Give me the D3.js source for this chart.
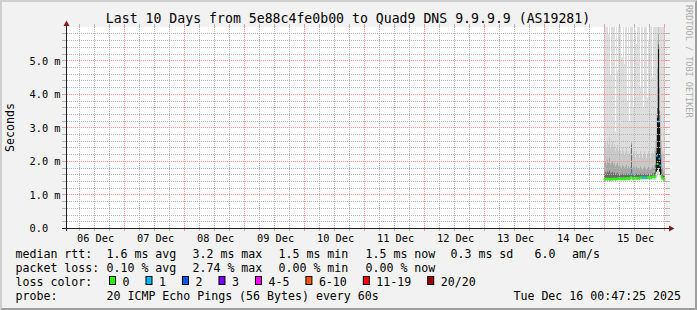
<!DOCTYPE html>
<html><head><meta charset="utf-8">
<script src="https://cdn.jsdelivr.net/npm/d3@7"></script>
<style>
html,body{margin:0;padding:0;background:#f2f2f2;}
svg{display:block;}
text{font-family:'DejaVu Sans Mono',monospace;fill:#000;}
</style></head><body>
<svg id="c" width="697" height="310"></svg>
<script>
// ---------- data ----------
const title = "Last 10 Days from 5e88c4fe0b00 to Quad9 DNS 9.9.9.9 (AS19281)";
const yAxisTitle = "Seconds";
const watermark = "RRDTOOL / TOBI OETIKER";
const yTickValues = [0, 1, 2, 3, 4, 5];
const yTickLabels = ["0.0", "1.0 m", "2.0 m", "3.0 m", "4.0 m", "5.0 m"];
const xTickLabels = ["06 Dec","07 Dec","08 Dec","09 Dec","10 Dec","11 Dec","12 Dec","13 Dec","14 Dec","15 Dec"];
const rangeStart = "2025-12-06T00:47:25Z";
const rangeEnd = "2025-12-16T00:47:25Z";
const dataStart = "2025-12-15T00:00:00Z";
const stepSeconds = 1440;

// median rtt per step (ms)
const medianRtt = [
 1.47,1.47,1.48,1.47,1.48,1.47,1.47,1.48,1.47,1.48,
 1.48,1.47,1.48,1.48,1.49,1.48,1.48,1.49,1.48,1.49,
 1.49,1.48,1.49,1.50,1.49,1.48,1.52,1.63,1.50,1.49,
 1.50,1.51,1.50,1.50,1.51,1.50,1.51,1.52,1.51,1.52,
 1.51,1.52,1.51,1.52,1.53,1.52,1.53,1.52,1.54,1.55,
 1.53,1.56,2.17,1.92,3.19,2.08,1.88,1.55,1.50,1.47,
 1.46];
// lost pings out of 20 per step
const lossCount = [
 0,0,0,0,0,0,0,0,0,0,
 0,0,0,0,0,0,0,0,0,0,
 0,0,0,0,0,0,0,1,0,0,
 0,0,0,0,0,0,0,0,1,1,
 0,1,1,0,0,0,0,0,0,0,
 0,0,1,0,1,1,1,0,0,0,
 0];
// smoke: ping distribution per step (ms)
const smokeMax = [
 6.5,6.5,6.5,6.5,5.8,6.5,4.6,6.5,6.5,6.5,
 6.5,2.9,6.5,4.7,6.5,6.5,6.5,5.1,5.1,6.5,
 4.9,6.5,6.5,3.8,6.5,3.2,6.5,6.5,6.5,3.6,
 6.5,5.9,5.5,6.5,6.5,6.5,4.2,6.5,6.5,3.6,
 6.5,6.5,6.5,3.9,5.6,6.5,6.5,6.5,4.5,6.5,
 6.5,6.5,6.5,6.5,6.5,6.5,6.5,6.5,6.5,6.5,
 6.5];
const smokeHi1 = [
 2.5,2.6,2.4,2.6,2.5,2.7,2.4,2.5,2.6,2.4,
 2.5,2.3,2.4,2.5,2.3,2.4,2.3,2.2,2.4,2.3,
 2.2,2.3,2.4,2.2,2.3,2.2,2.3,2.6,2.2,2.3,
 2.2,2.1,2.3,2.2,2.2,2.1,2.3,2.2,2.1,2.2,
 2.3,2.2,2.1,2.2,2.3,2.2,2.1,2.2,2.3,2.2,
 2.4,2.6,3.4,5.6,6.2,5.4,3.4,2.6,2.3,2.2,
 2.1];
const smokeHi2 = [
 1.95,2.0,1.9,2.05,1.95,2.1,1.9,1.95,2.0,1.9,
 1.95,1.85,1.9,1.95,1.85,1.9,1.85,1.8,1.9,1.85,
 1.8,1.85,1.9,1.8,1.85,1.8,1.85,2.55,1.8,1.85,
 1.8,1.75,1.85,1.8,1.8,1.75,1.85,1.8,1.75,1.8,
 1.85,1.8,1.75,1.8,1.85,1.8,1.75,1.8,1.85,1.8,
 1.9,2.3,2.8,4.8,5.8,4.2,3.0,2.2,1.8,1.7,
 1.65];
const smokeHi3 = [
 1.66,1.68,1.64,1.70,1.66,1.72,1.64,1.66,1.68,1.63,
 1.66,1.62,1.64,1.66,1.62,1.64,1.62,1.61,1.64,1.62,
 1.61,1.62,1.64,1.61,1.62,1.60,1.63,2.50,1.62,1.62,
 1.61,1.60,1.63,1.62,1.61,1.60,1.63,1.62,1.61,1.62,
 1.63,1.62,1.60,1.62,1.63,1.62,1.60,1.62,1.64,1.63,
 1.66,1.90,2.40,3.60,5.50,3.50,2.40,1.80,1.62,1.58,
 1.56];
const smokeHi4 = [
 null,null,null,null,null,null,null,null,null,null,
 null,null,null,null,null,null,null,null,null,null,
 null,null,null,null,null,null,null,null,null,null,
 null,null,null,null,null,null,null,null,null,null,
 null,null,null,null,null,null,null,null,null,null,
 null,null,2.25,3.3,5.35,3.2,2.1,null,null,null,
 null];
const smokeLo = [
 1.44,1.44,1.45,1.44,1.45,1.44,1.44,1.45,1.44,1.45,
 1.45,1.44,1.45,1.45,1.46,1.45,1.45,1.46,1.45,1.46,
 1.46,1.45,1.46,1.47,1.46,1.45,1.49,1.55,1.47,1.46,
 1.47,1.48,1.47,1.47,1.48,1.47,1.48,1.49,1.48,1.49,
 1.48,1.49,1.48,1.49,1.50,1.49,1.50,1.49,1.51,1.52,
 1.50,1.53,1.70,1.75,1.80,1.70,1.60,1.50,1.47,1.44,
 1.43];
const smokeMin = [
 1.39,1.40,1.39,1.38,1.40,1.39,1.39,1.40,1.39,1.40,
 1.40,1.39,1.40,1.40,1.41,1.40,1.40,1.41,1.40,1.41,
 1.41,1.40,1.41,1.42,1.41,1.40,1.42,1.43,1.42,1.41,
 1.42,1.42,1.42,1.42,1.43,1.42,1.43,1.43,1.43,1.44,
 1.43,1.44,1.43,1.44,1.44,1.44,1.44,1.44,1.45,1.45,
 1.44,1.46,1.50,1.55,1.60,1.55,1.50,1.45,1.42,1.40,
 1.39];

// legend
const rttStats = ["1.6 ms avg","3.2 ms max","1.5 ms min","1.5 ms now","0.3 ms sd","6.0","am/s"];
const lossStats = ["0.10 % avg","2.74 % max","0.00 % min","0.00 % now"];
const lossLabels = ["0","1","2","3","4-5","6-10","11-19","20/20"];
const lossColors = ["#26ff00","#00b8ff","#0059ff","#7e00ff","#ff00ff","#ff5500","#ff0000","#a10000"];
const lossUpper = [0,1,2,3,5,10,19,20];
const probeText = "20 ICMP Echo Pings (56 Bytes) every 60s";
const dateText = "Tue Dec 16 00:47:25 2025";

// ---------- layout ----------
const W = 697, H = 310;
const PL = 66, PR = 666, PT = 27, PB = 228.5;
const svg = d3.select("#c");
const crisp = v => Math.floor(v) + 0.5;

// background + frame
svg.append("rect").attr("width", W).attr("height", H).attr("fill", "#f2f2f2");
svg.append("path").attr("d", `M0,0H${W}L${W-2},2H2V${H-2}L0,${H}Z`).attr("fill", "#cfcfcf");
svg.append("path").attr("d", `M${W},0V${H}H0L2,${H-2}H${W-2}V2Z`).attr("fill", "#9e9e9e");

const x = d3.scaleUtc().domain([new Date(rangeStart), new Date(rangeEnd)]).range([PL, PR]);
const y = d3.scaleLinear().domain([0, 6]).range([PB, 27.2]);

svg.append("rect").attr("x", PL).attr("y", PT).attr("width", PR - PL).attr("height", 228 - PT).attr("fill", "#ffffff");

// ---------- data marks ----------
svg.append("clipPath").attr("id", "clip").append("rect")
  .attr("x", PL).attr("y", PT).attr("width", PR - PL).attr("height", 228.5 - PT);
const plot = svg.append("g").attr("clip-path", "url(#clip)");

const t0 = new Date(dataStart).getTime();
const times = d3.range(medianRtt.length + 1).map(i => new Date(t0 + i * stepSeconds * 1000));

function stepPts(lo, hi) {
  const pts = [];
  hi.forEach((h, i) => {
    const l = lo[i];
    pts.push({ t: times[i], lo: l, hi: h, i });
    pts.push({ t: times[i + 1], lo: l, hi: h, i });
  });
  return pts;
}
const area = d3.area()
  .defined(d => d.hi != null)
  .x(d => x(d.t)).y0(d => y(d.lo)).y1(d => y(d.hi));

const bands = [
  [smokeMin, smokeMax, "#dddddd"],
  [smokeLo, smokeHi1, "#c8c8c8"],
  [smokeLo, smokeHi2, "#a6a6a6"],
  [smokeLo, smokeHi3, "#6b6b6b"],
  [smokeLo, smokeHi4, "#141414"]
];
bands.forEach(([lo, hi, col]) => {
  plot.append("path").attr("d", area(stepPts(lo, hi))).attr("fill", col);
});

// ---------- median line coloured by loss ----------
const lossClass = i => lossUpper.findIndex(u => lossCount[i] <= u);
medianRtt.forEach((m, i) => {
  const c = lossClass(i);
  const x0 = x(times[i]) - 0.5, x1 = x(times[i + 1]) + 0.5;
  plot.append("line").attr("x1", x0).attr("x2", x1)
    .attr("y1", y(m)).attr("y2", y(m))
    .attr("stroke", lossColors[c]).attr("stroke-width", 2);
});

// ---------- grid (drawn over the graph, as rrdtool does) ----------
const grid = svg.append("g");
const minorCol = "#b4b4b4", majorCol = "#f29a9a", majorHaze = "rgba(240,140,140,0.16)";
const [d0, d1] = x.domain();
const dayLines = d3.utcDay.range(d0, d1);
const sixHourLines = d3.utcHour.every(6).range(d0, d1).filter(h => h.getUTCHours() !== 0);
const yMajor = [1, 2, 3, 4, 5];
const yMinor = y.ticks(30).filter(v => v > 0 && v < 6 && Math.round(v * 5) % 5 !== 0);

function vDots(xx, col, haze) {
  if (haze) grid.append("rect").attr("x", xx - 0.5).attr("y", PT).attr("width", 1).attr("height", 228 - PT).attr("fill", haze);
  let d = "";
  for (let yy = PT; yy < 228; yy += 2) d += `M${xx - 0.5},${yy}h1v1h-1Z`;
  grid.append("path").attr("d", d).attr("fill", col);
  grid.append("path").attr("d", `M${xx - 0.5},228h1v3h-1ZM${xx - 0.5},24h1v3h-1Z`).attr("fill", col);
}
function hDots(yy, col, haze) {
  if (haze) grid.append("rect").attr("x", PL + 1).attr("y", yy - 0.5).attr("width", PR - PL - 1).attr("height", 1).attr("fill", haze);
  let d = "";
  for (let xx = PL + 1; xx < PR; xx += 2) d += `M${xx},${yy - 0.5}h1v1h-1Z`;
  grid.append("path").attr("d", d).attr("fill", col);
  grid.append("path").attr("d", `M62,${yy - 0.5}h4v1h-4ZM${PR},${yy - 0.5}h4v1h-4Z`).attr("fill", col);
}
sixHourLines.forEach(h => vDots(crisp(x(h)), minorCol));
yMinor.forEach(v => hDots(crisp(y(v)), minorCol));
dayLines.forEach(h => vDots(crisp(x(h)), majorCol, majorHaze));
yMajor.forEach(v => hDots(crisp(y(v)), majorCol, majorHaze));

// ---------- axes ----------
const axisCol = "#1f1f1f", arrowCol = "#801f1f";
svg.append("line").attr("x1", 62).attr("x2", 670).attr("y1", 228.5).attr("y2", 228.5).attr("stroke", axisCol);
svg.append("line").attr("x1", 66.5).attr("x2", 66.5).attr("y1", 231).attr("y2", 23).attr("stroke", axisCol);
svg.append("path").attr("d", "M669,225.5L674.5,228.5L669,231.5Z").attr("fill", arrowCol);
svg.append("path").attr("d", "M63.5,26L66.5,20.5L69.5,26Z").attr("fill", arrowCol);

const noon = xTickLabels.map((_, i) => new Date(Date.UTC(2025, 11, 6 + i, 12)));
const xAxis = svg.append("g").attr("transform", "translate(0,228)")
  .call(d3.axisBottom(x).tickValues(noon).tickFormat((d, i) => xTickLabels[i]).tickSize(0));
xAxis.select(".domain").remove();
xAxis.selectAll("text").attr("y", 13.7).attr("dy", 0).attr("dx", 1)
  .style("font-family", "'DejaVu Sans Mono',monospace").style("font-size", "10.3px").attr("fill", "#000");

const yAxis = svg.append("g")
  .call(d3.axisLeft(y).tickValues(yTickValues).tickFormat((d, i) => yTickLabels[i]).tickSize(0));
yAxis.select(".domain").remove();
yAxis.selectAll("text").attr("x", 29.5).attr("text-anchor", "start").attr("dy", "0.33em")
  .style("font-family", "'DejaVu Sans Mono',monospace").style("font-size", "10.3px").attr("fill", "#000");

// ---------- titles ----------
svg.append("text").attr("x", 348).attr("y", 23).attr("text-anchor", "middle")
  .style("font-size", "13.2px").text(title);
svg.append("text").attr("transform", "translate(14,127.5) rotate(-90)").attr("text-anchor", "middle")
  .style("font-size", "11.6px").text(yAxisTitle);
svg.append("text").attr("transform", "translate(685.5,5) rotate(90)")
  .style("font-size", "8.5px").style("fill", "#ababab").text(watermark);

// ---------- legend ----------
const fs = "11.6px";
const leg = svg.append("g").style("font-size", fs);
const rowY = [258, 272, 286, 299.5];
const colX = [106.5, 192.5, 278.5, 365.5, 450.5, 534.5, 572];
leg.append("text").attr("x", 15.5).attr("y", rowY[0]).text("median rtt:");
rttStats.forEach((s, i) => leg.append("text").attr("x", colX[i]).attr("y", rowY[0]).text(s));
leg.append("text").attr("x", 15.5).attr("y", rowY[1]).text("packet loss:");
lossStats.forEach((s, i) => leg.append("text").attr("x", colX[i]).attr("y", rowY[1]).text(s));
leg.append("text").attr("x", 15.5).attr("y", rowY[2]).text("loss color:");
let bx = 109;
lossLabels.forEach((lab, i) => {
  leg.append("rect").attr("x", bx + 0.5).attr("y", 276.5).attr("width", 6).attr("height", 8)
    .attr("fill", lossColors[i]).attr("stroke", "#000").attr("stroke-width", 1);
  const t = leg.append("text").attr("x", bx + 13.5).attr("y", rowY[2]).text(lab);
  const w = t.node().getComputedTextLength();
  bx = bx + 13.5 + w + 16;
});
leg.append("text").attr("x", 15.5).attr("y", rowY[3]).text("probe:");
leg.append("text").attr("x", 106.5).attr("y", rowY[3]).text(probeText);
leg.append("text").attr("x", 681).attr("y", rowY[3]).attr("text-anchor", "end").text(dateText);
</script>
</body></html>
